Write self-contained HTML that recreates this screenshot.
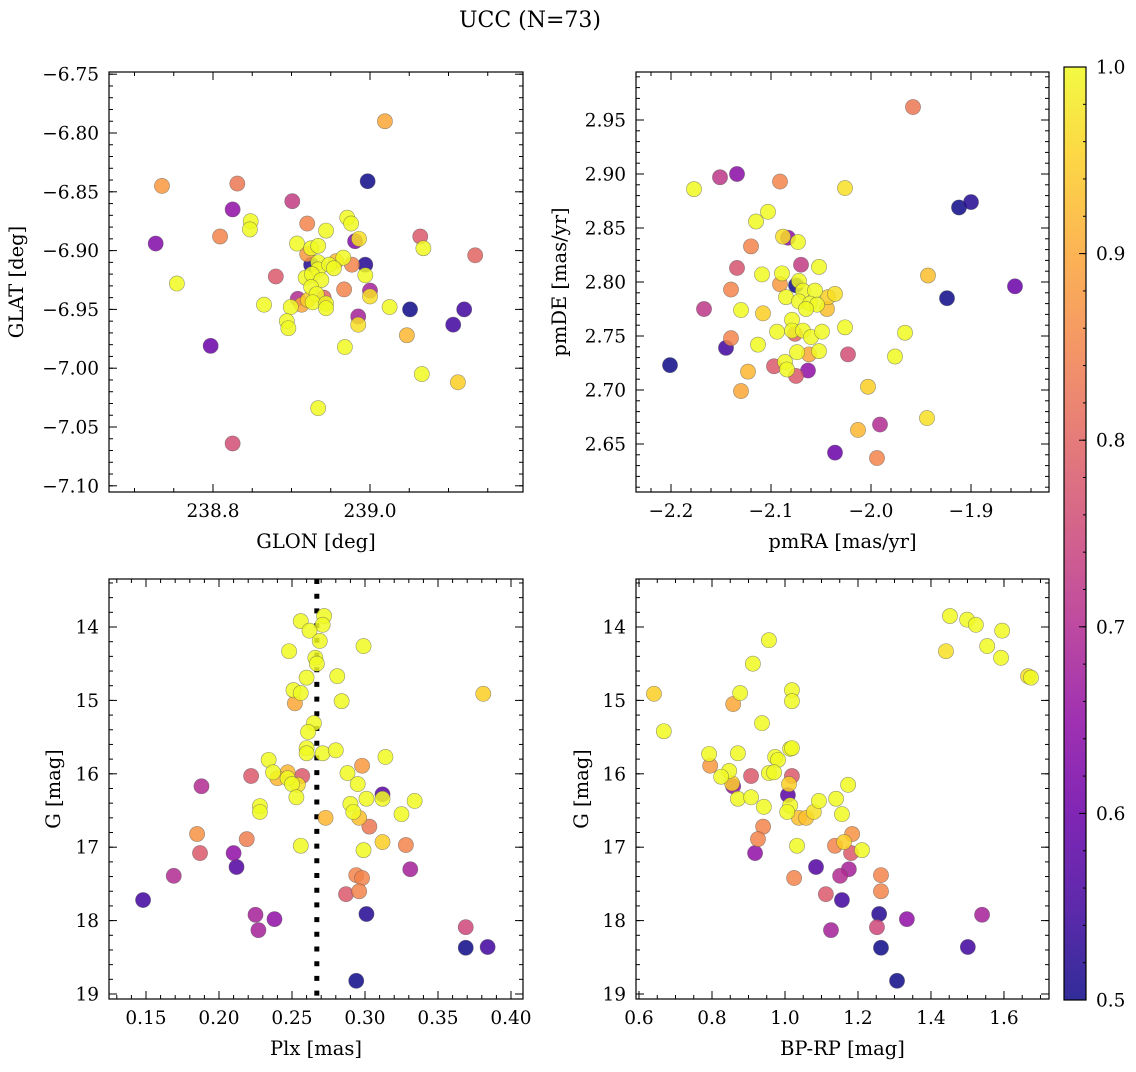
<!DOCTYPE html>
<html><head><meta charset="utf-8"><title>UCC (N=73)</title>
<style>
html,body{margin:0;padding:0;background:#fff;}
svg text{font-family:"DejaVu Serif","Liberation Serif",serif;fill:#000;}
</style></head>
<body>
<svg id="fig" xmlns="http://www.w3.org/2000/svg" width="1136" height="1067" viewBox="0 0 1136 1067">
<rect width="1136" height="1067" fill="#fff"/>
<text x="530" y="27" font-size="22" text-anchor="middle">UCC (N=73)</text>
<defs>
<linearGradient id="plasmaGrad" x1="0" y1="1" x2="0" y2="0">
<stop offset="0" stop-color="#0d0887"/><stop offset="0.1" stop-color="#41049d"/><stop offset="0.2" stop-color="#6a00a8"/><stop offset="0.3" stop-color="#8f0da4"/><stop offset="0.4" stop-color="#b12a90"/><stop offset="0.5" stop-color="#cc4778"/><stop offset="0.6" stop-color="#e16462"/><stop offset="0.7" stop-color="#f2844b"/><stop offset="0.8" stop-color="#fca636"/><stop offset="0.9" stop-color="#fcce25"/><stop offset="1" stop-color="#f0f921"/>
</linearGradient>
</defs>
</svg>
<script>
// ---------- Panel 1 data: GLON / GLAT ----------
const glon = [239.019,238.735,238.831,238.997,238.901,238.825,238.848,238.847,238.809,238.727,
238.920,238.971,238.976,238.944,238.981,238.986,239.064,239.068,239.134,238.907,
238.920,238.925,238.934,238.925,238.934,238.934,238.948,238.957,238.966,238.954,
238.977,238.994,238.994,238.880,238.754,238.918,238.926,238.938,238.925,238.967,
239.000,239.000,238.908,238.941,238.932,238.921,238.927,238.913,238.899,238.944,
238.944,238.865,239.025,239.051,239.120,239.106,238.985,238.985,238.894,238.896,
239.047,238.797,238.968,239.066,239.112,238.934,238.825];
const glat = [-6.790,-6.845,-6.843,-6.841,-6.858,-6.865,-6.875,-6.882,-6.888,-6.894,
-6.877,-6.872,-6.877,-6.883,-6.892,-6.890,-6.888,-6.898,-6.904,-6.894,
-6.903,-6.898,-6.896,-6.912,-6.910,-6.916,-6.912,-6.909,-6.906,-6.915,
-6.912,-6.912,-6.921,-6.922,-6.928,-6.923,-6.920,-6.925,-6.931,-6.933,
-6.934,-6.939,-6.941,-6.940,-6.937,-6.942,-6.944,-6.946,-6.948,-6.945,
-6.949,-6.946,-6.948,-6.950,-6.950,-6.963,-6.956,-6.963,-6.960,-6.966,
-6.972,-6.981,-6.982,-7.005,-7.012,-7.034,-7.064];
const prob1 = [0.9,0.88,0.83,0.5,0.73,0.65,1,1,0.85,0.63,
0.85,1,1,1,0.63,0.97,0.78,1,0.8,1,
0.88,1,1,0.52,1,1,1,0.93,1,1,
0.85,0.52,1,0.78,1,1,1,1,1,0.85,
0.68,0.97,0.7,0.8,1,0.95,1,0.9,1,1,
1,1,1,0.5,0.55,0.55,0.68,0.97,1,1,
0.92,0.6,1,1,0.95,1,0.76];

// ---------- Panel 2 data: pmRA / pmDE ----------
const pmra = [-1.958,-2.151,-2.134,-2.177,-2.091,-2.026,-1.912,-1.900,-2.103,-2.115,
-2.088,-2.083,-2.073,-2.120,-2.134,-2.070,-2.052,-2.109,-2.089,-1.943,
-1.856,-2.140,-2.091,-2.072,-2.075,-2.068,-2.056,-2.085,-2.072,-2.061,
-2.054,-2.043,-2.036,-2.044,-2.065,-1.924,-2.167,-2.130,-2.108,-2.079,
-2.079,-2.076,-2.068,-2.060,-2.049,-2.094,-2.026,-1.966,-2.140,-2.145,
-2.113,-2.074,-2.062,-2.052,-2.023,-1.976,-2.201,-2.097,-2.086,-2.084,
-2.063,-2.075,-2.123,-2.130,-2.003,-1.944,-1.991,-2.013,-2.036,-1.994];
const pmde = [2.962,2.897,2.900,2.886,2.893,2.887,2.869,2.874,2.865,2.856,
2.842,2.841,2.837,2.833,2.813,2.816,2.814,2.807,2.808,2.806,
2.796,2.793,2.798,2.801,2.797,2.792,2.792,2.786,2.782,2.780,
2.779,2.786,2.789,2.775,2.775,2.785,2.775,2.774,2.771,2.765,
2.755,2.752,2.755,2.749,2.754,2.754,2.758,2.753,2.748,2.739,
2.742,2.735,2.733,2.736,2.733,2.731,2.723,2.722,2.726,2.719,
2.718,2.713,2.717,2.699,2.703,2.674,2.668,2.663,2.642,2.637];
const prob2 = [0.83,0.72,0.64,1,0.85,0.97,0.5,0.52,1,1,
0.97,0.65,1,0.85,0.77,0.73,1,1,1,0.93,
0.6,0.85,0.88,1,0.5,1,1,1,1,1,
1,0.95,0.97,0.93,1,0.5,0.72,1,0.95,1,
1,0.8,1,1,1,1,1,1,0.85,0.55,
1,1,0.9,1,0.76,1,0.5,0.78,1,1,
0.65,0.78,0.92,0.9,0.95,0.97,0.7,0.92,0.6,0.85];

// ---------- Panel 3 data: Plx / G ----------
const plx = [0.272,0.256,0.271,0.262,0.269,0.299,0.248,0.266,0.267,0.281,
0.260,0.251,0.256,0.381,0.284,0.252,0.265,0.261,0.260,0.260,
0.271,0.280,0.314,0.234,0.298,0.288,0.222,0.257,0.237,0.247,
0.240,0.247,0.250,0.254,0.295,0.188,0.312,0.312,0.301,0.334,
0.253,0.228,0.228,0.290,0.292,0.296,0.273,0.325,0.303,0.185,
0.219,0.256,0.312,0.328,0.299,0.187,0.210,0.212,0.331,0.169,
0.294,0.298,0.296,0.287,0.148,0.301,0.225,0.238,0.227,0.369,
0.369,0.384,0.294];
const gmag3 = [13.85,13.92,13.97,14.05,14.19,14.26,14.33,14.42,14.50,14.67,
14.69,14.86,14.90,14.91,15.01,15.04,15.31,15.43,15.65,15.72,
15.72,15.68,15.77,15.81,15.89,15.99,16.03,16.03,15.98,15.98,
16.06,16.06,16.14,16.15,16.14,16.17,16.28,16.34,16.34,16.37,
16.32,16.44,16.52,16.41,16.52,16.60,16.60,16.55,16.72,16.82,
16.89,16.98,16.93,16.97,17.04,17.08,17.08,17.27,17.30,17.39,
17.38,17.42,17.60,17.64,17.72,17.91,17.92,17.98,18.13,18.09,
18.37,18.36,18.82];
const prob3 = [1,1,1,1,1,1,1,1,1,1,
1,1,1,0.95,1,0.9,1,1,1,1,
1,1,1,1,0.88,1,0.78,0.78,1,0.92,
0.92,1,1,0.97,1,0.7,0.58,1,1,1,
1,1,1,1,1,0.93,0.92,1,0.83,0.87,
0.84,1,0.95,0.85,1,0.78,0.65,0.57,0.68,0.7,
0.85,0.85,0.85,0.78,0.55,0.52,0.68,0.65,0.68,0.75,
0.5,0.55,0.5];
const plxMedian = [0.267];

// ---------- Panel 4 data: BP-RP / G ----------
const bprp = [1.452,1.499,1.523,1.595,1.441,1.554,1.592,1.666,1.674,0.956,
0.912,0.641,0.877,0.858,1.019,1.019,0.668,0.937,0.792,0.871,
1.014,1.019,0.973,0.981,0.795,0.847,0.825,0.858,0.855,0.907,
0.956,0.970,1.019,1.011,1.173,1.008,1.014,0.871,0.907,0.942,
1.006,1.093,1.140,1.079,1.038,1.058,1.156,0.940,0.926,1.184,
1.137,1.162,1.181,1.211,1.033,0.918,1.085,1.175,1.151,1.263,
1.025,1.263,1.112,1.156,1.258,1.334,1.540,1.126,1.252,1.263,
1.501,1.307];
const gmag4 = [13.85,13.90,13.97,14.05,14.33,14.26,14.42,14.67,14.69,14.18,
14.50,14.91,14.90,15.05,14.86,15.01,15.42,15.31,15.73,15.72,
15.66,15.65,15.77,15.81,15.89,15.96,16.04,16.17,16.13,16.03,
15.99,15.98,16.03,16.14,16.15,16.29,16.43,16.34,16.32,16.45,
16.52,16.37,16.34,16.52,16.60,16.60,16.55,16.72,16.89,16.82,
16.98,16.93,17.08,17.04,16.98,17.08,17.27,17.30,17.39,17.38,
17.42,17.60,17.64,17.72,17.91,17.98,17.92,18.13,18.09,18.37,
18.36,18.82];
const prob4 = [1,1,1,1,0.97,1,1,0.97,1,1,
1,0.95,1,0.9,1,1,1,1,1,1,
1,1,1,1,0.88,1,1,0.65,0.95,0.78,
1,1,0.78,0.95,1,0.58,1,1,1,1,
1,1,1,0.97,0.93,0.93,1,0.85,0.85,0.87,
0.85,0.95,0.78,1,1,0.65,0.57,0.68,0.7,0.85,
0.85,0.85,0.78,0.55,0.52,0.65,0.68,0.68,0.75,0.5,
0.55,0.5];

// colorbar ticks
const cbarTicks = [0.5,0.6,0.7,0.8,0.9,1.0];

const NS = "http://www.w3.org/2000/svg";
const svg = document.getElementById('fig');
function mk(tag, attrs, parent){
  const e = document.createElementNS(NS, tag);
  for (const k in attrs) e.setAttribute(k, attrs[k]);
  (parent||svg).appendChild(e);
  return e;
}
const stops = [[13,8,135],[65,4,157],[106,0,168],[143,13,164],[177,42,144],[204,71,120],[225,100,98],[242,132,75],[252,166,54],[252,206,37],[240,249,33]];
function plasma(v){
  let t = (v-0.5)/0.5; t = Math.max(0, Math.min(1, t));
  const f = t*10, i = Math.min(9, Math.floor(f)), r = f - i;
  const a = stops[i], b = stops[i+1];
  return 'rgb(' + [0,1,2].map(k => Math.round(a[k]+(b[k]-a[k])*r)).join(',') + ')';
}
function fmt(v, d){ const s = Math.abs(v).toFixed(d); return (v < -1e-9 ? '\u2212' : '') + s; }

function panel(cfg){
  const {L,T,R,B} = cfg.box;
  const sx = v => L + (v - cfg.xd[0])/(cfg.xd[1]-cfg.xd[0])*(R-L);
  const sy = v => cfg.yinv ? T + (v - cfg.yd[0])/(cfg.yd[1]-cfg.yd[0])*(B-T)
                           : B - (v - cfg.yd[0])/(cfg.yd[1]-cfg.yd[0])*(B-T);
  const g = mk('g', {});
  
  
  const tg = mk('g', {stroke:'#000','stroke-width':1}, g);
  
  
  function ticksX(step, len){
    const s0 = Math.ceil((Math.min(...cfg.xd)-1e-9)/step);
    const s1 = Math.floor((Math.max(...cfg.xd)+1e-9)/step);
    for (let k = s0; k <= s1; k++){
      const x = sx(k*step);
      mk('line', {x1:x, y1:B, x2:x, y2:B-len}, tg);
      mk('line', {x1:x, y1:T, x2:x, y2:T+len}, tg);
    }
  }
  function ticksY(step, len){
    const s0 = Math.ceil((Math.min(...cfg.yd)-1e-9)/step);
    const s1 = Math.floor((Math.max(...cfg.yd)+1e-9)/step);
    for (let k = s0; k <= s1; k++){
      const y = sy(k*step);
      mk('line', {x1:L, y1:y, x2:L+len, y2:y}, tg);
      mk('line', {x1:R, y1:y, x2:R-len, y2:y}, tg);
    }
  }
  ticksX(cfg.xminor, 4); ticksX(cfg.xmajor, 8);
  ticksY(cfg.yminor, 4); ticksY(cfg.ymajor, 8);
  cfg.xlabels.forEach(v => {
    const t = mk('text', {x: sx(v), y: B+25, 'font-size':18.5, 'text-anchor':'middle'}, g);
    
    
    t.textContent = fmt(v, cfg.xdec);
  });
  cfg.ylabels.forEach(v => {
    const t = mk('text', {x: L-10, y: sy(v)+6.5, 'font-size':18.5, 'text-anchor':'end'}, g);
    
    
    t.textContent = fmt(v, cfg.ydec);
  });
  const xt = mk('text', {x:(L+R)/2, y:B+56, 'font-size':19.5, 'text-anchor':'middle'}, g);
  
  
  xt.textContent = cfg.xtitle;
  const yx = cfg.ytitleX, yc = (T+B)/2;
  const yt = mk('text', {x:yx, y:yc, 'font-size':19.5, 'text-anchor':'middle', transform:'rotate(-90 '+yx+' '+yc+')'}, g);
  
  
  yt.textContent = cfg.ytitle;
  const cid = 'clip-' + cfg.name;
  const cp = mk('clipPath', {id: cid}, g);
  mk('rect', {x:L, y:T, width:R-L, height:B-T}, cp);
  const pg = mk('g', {'clip-path':'url(#'+cid+')'}, g);
  
  
  if (cfg.vline){
    const vx = sx(cfg.vline[0]);
    const ln = mk('line', {x1:vx, y1:T, x2:vx, y2:B, stroke:'#000', 'stroke-width':5, 'stroke-dasharray':'5 9.7'}, pg);
    
    
  }
  const idx = cfg.xs.map((_, i) => i).sort((a, b) => cfg.cs[a] - cfg.cs[b]);
  idx.forEach(i => {
    const c = mk('circle', {cx: sx(cfg.xs[i]), cy: sy(cfg.ys[i]), r: 7.6, fill: plasma(cfg.cs[i]), 'fill-opacity':0.85, stroke:'#555', 'stroke-opacity':0.6, 'stroke-width':0.6}, pg);
    
    
  });
  const fr = mk('rect', {x:L, y:T, width:R-L, height:B-T, fill:'none', stroke:'#000', 'stroke-width':1.2}, g);
  
  
}

panel({name:'glon-glat-panel', box:{L:109,T:72,R:523,B:492},
  xd:[238.8-104/785, 238.8+310/785], yd:[-6.80-359/1176, -6.80+61/1176],
  xmajor:0.2, xminor:0.05, ymajor:0.05, yminor:0.01,
  xlabels:[238.8,239.0], ylabels:[-6.75,-6.80,-6.85,-6.90,-6.95,-7.00,-7.05,-7.10],
  xdec:1, ydec:2, xtitle:'GLON [deg]', ytitle:'GLAT [deg]', ytitleX:23,
  xs:glon, ys:glat, cs:prob1});
panel({name:'pm-panel', box:{L:636,T:72,R:1049,B:492},
  xd:[-2.2-35/1000, -2.2+378/1000], yd:[2.95-372/1080, 2.95+48/1080],
  xmajor:0.1, xminor:0.02, ymajor:0.05, yminor:0.01,
  xlabels:[-2.2,-2.1,-2.0,-1.9], ylabels:[2.65,2.70,2.75,2.80,2.85,2.90,2.95],
  xdec:1, ydec:2, xtitle:'pmRA [mas/yr]', ytitle:'pmDE [mas/yr]', ytitleX:566,
  xs:pmra, ys:pmde, cs:prob2});
panel({name:'plx-g-panel', box:{L:109,T:579,R:523,B:999},
  xd:[0.15-37/1460, 0.15+377/1460], yd:[14-48/73.4, 14+372/73.4], yinv:true,
  xmajor:0.05, xminor:0.01, ymajor:1, yminor:0.2,
  xlabels:[0.15,0.20,0.25,0.30,0.35,0.40], ylabels:[14,15,16,17,18,19],
  xdec:2, ydec:0, xtitle:'Plx [mas]', ytitle:'G [mag]', ytitleX:60,
  xs:plx, ys:gmag3, cs:prob3, vline:plxMedian});
panel({name:'cmd-panel', box:{L:636,T:579,R:1049,B:999},
  xd:[0.8-76*0.00274, 0.8+337*0.00274], yd:[14-48/73.4, 14+372/73.4], yinv:true,
  xmajor:0.2, xminor:0.05, ymajor:1, yminor:0.2,
  xlabels:[0.6,0.8,1.0,1.2,1.4,1.6], ylabels:[14,15,16,17,18,19],
  xdec:1, ydec:0, xtitle:'BP-RP [mag]', ytitle:'G [mag]', ytitleX:588,
  xs:bprp, ys:gmag4, cs:prob4});

// colorbar
(function(){
  const L = 1064, R = 1086, T = 67, B = 1000;
  const g = mk('g', {});
  
  
  const r = mk('rect', {x:L, y:T, width:R-L, height:B-T, fill:'url(#plasmaGrad)', 'fill-opacity':0.85, stroke:'#000', 'stroke-width':1.2}, g);
  
  
  const sy = v => B - (v-0.5)/0.5*(B-T);
  for (let k = 25; k <= 50; k++){
    const y = sy(k*0.02);
    mk('line', {x1:R, y1:y, x2:R-3, y2:y, stroke:'#000', 'stroke-width':1}, g);
  }
  cbarTicks.forEach(v => {
    const y = sy(v);
    mk('line', {x1:R, y1:y, x2:R-7, y2:y, stroke:'#000', 'stroke-width':1}, g);
    const t = mk('text', {x:R+10, y:y+6.5, 'font-size':18.5}, g);
    
    
    t.textContent = v.toFixed(1);
  });
})();
</script>
</body></html>
